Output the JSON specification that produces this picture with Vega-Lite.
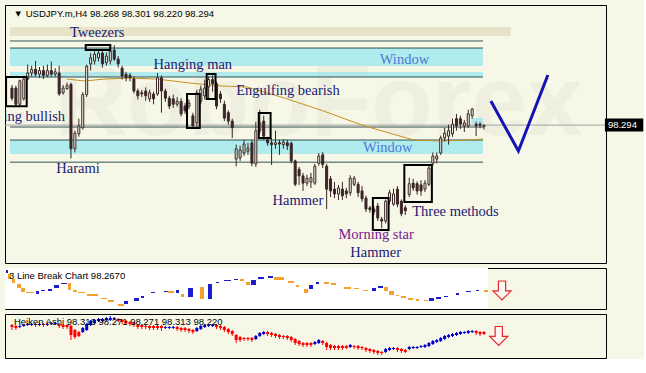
{
"$schema": "https://vega.github.io/schema/vega-lite/v6.json",
"background": "#f7f7e7",
"padding": {"left": 4, "top": 4, "right": 0, "bottom": 0},
"spacing": 3,
"config": {
  "view": {"stroke": "#000000", "strokeWidth": 1, "fill": "#f7f7e7"},
  "axis": {"labelFont": "Liberation Sans", "labelFontSize": 9.5, "labelColor": "#000000", "tickColor": "#000000", "domain": false, "grid": false, "tickSize": 4, "labelPadding": 3, "labelOverlap": false, "labelBound": false, "labelFlush": false}
},
"resolve": {"scale": {"x": "independent", "y": "independent", "color": "independent"}},
"datasets": {
  "candles": [
    {"i":0,"o":98.91,"h":98.96,"l":98.70,"c":98.74},{"i":1,"o":98.91,"h":98.95,"l":98.60,"c":98.64},{"i":2,"o":98.64,"h":99.05,"l":98.62,"c":99.03},{"i":3,"o":98.73,"h":99.08,"l":98.70,"c":99.06},
    {"i":4,"o":99.06,"h":99.30,"l":99.04,"c":99.16},{"i":5,"o":99.16,"h":99.28,"l":99.10,"c":99.22},{"i":6,"o":99.22,"h":99.36,"l":99.10,"c":99.14},{"i":7,"o":99.14,"h":99.26,"l":99.08,"c":99.20},
    {"i":8,"o":99.20,"h":99.28,"l":99.06,"c":99.12},{"i":9,"o":99.12,"h":99.30,"l":99.09,"c":99.20},{"i":10,"o":99.20,"h":99.35,"l":99.10,"c":99.14},{"i":11,"o":99.14,"h":99.24,"l":99.10,"c":99.18},
    {"i":12,"o":99.16,"h":99.28,"l":98.78,"c":98.81},{"i":13,"o":98.83,"h":98.96,"l":98.80,"c":98.91},{"i":14,"o":98.90,"h":99.00,"l":98.88,"c":98.95},{"i":15,"o":98.97,"h":99.00,"l":97.74,"c":97.90},
    {"i":16,"o":97.90,"h":98.20,"l":97.84,"c":98.16},{"i":17,"o":98.15,"h":98.40,"l":98.10,"c":98.28},{"i":18,"o":98.25,"h":98.84,"l":98.22,"c":98.80},{"i":19,"o":98.80,"h":99.30,"l":98.76,"c":99.27},
    {"i":20,"o":99.31,"h":99.49,"l":99.20,"c":99.41},{"i":21,"o":99.36,"h":99.52,"l":99.30,"c":99.47},{"i":22,"o":99.41,"h":99.55,"l":99.35,"c":99.49},{"i":23,"o":99.49,"h":99.55,"l":99.25,"c":99.31},
    {"i":24,"o":99.33,"h":99.50,"l":99.28,"c":99.44},{"i":25,"o":99.36,"h":99.64,"l":99.30,"c":99.52},{"i":26,"o":99.54,"h":99.62,"l":99.36,"c":99.39},{"i":27,"o":99.39,"h":99.44,"l":99.25,"c":99.31},
    {"i":28,"o":99.24,"h":99.28,"l":99.05,"c":99.11},{"i":29,"o":99.14,"h":99.18,"l":99.02,"c":99.08},{"i":30,"o":99.12,"h":99.16,"l":99.02,"c":99.08},{"i":31,"o":99.06,"h":99.10,"l":98.82,"c":98.86},
    {"i":32,"o":98.86,"h":98.90,"l":98.72,"c":98.78},{"i":33,"o":98.83,"h":98.88,"l":98.76,"c":98.81},{"i":34,"o":98.86,"h":98.92,"l":98.70,"c":98.78},{"i":35,"o":98.73,"h":98.88,"l":98.68,"c":98.83},
    {"i":36,"o":98.81,"h":98.85,"l":98.64,"c":98.73},{"i":37,"o":98.81,"h":99.16,"l":98.78,"c":99.08},{"i":38,"o":99.08,"h":99.12,"l":98.50,"c":98.86},{"i":39,"o":98.86,"h":98.90,"l":98.68,"c":98.74},
    {"i":40,"o":98.74,"h":98.78,"l":98.56,"c":98.61},{"i":41,"o":98.73,"h":98.80,"l":98.58,"c":98.64},{"i":42,"o":98.64,"h":98.76,"l":98.60,"c":98.69},{"i":43,"o":98.69,"h":98.74,"l":98.44,"c":98.48},
    {"i":44,"o":98.61,"h":98.66,"l":98.48,"c":98.53},{"i":45,"o":98.61,"h":98.72,"l":98.56,"c":98.66},{"i":46,"o":98.45,"h":98.50,"l":98.24,"c":98.28},{"i":47,"o":98.33,"h":98.88,"l":98.26,"c":98.83},
    {"i":48,"o":98.69,"h":98.95,"l":98.64,"c":98.89},{"i":49,"o":98.78,"h":99.05,"l":98.72,"c":98.91},{"i":50,"o":98.93,"h":99.10,"l":98.72,"c":99.05},{"i":51,"o":99.05,"h":99.12,"l":98.85,"c":98.98},
    {"i":52,"o":98.98,"h":99.02,"l":98.56,"c":98.61},{"i":53,"o":98.81,"h":98.86,"l":98.66,"c":98.73},{"i":54,"o":98.64,"h":98.70,"l":98.36,"c":98.41},{"i":55,"o":98.50,"h":98.54,"l":98.30,"c":98.36},
    {"i":56,"o":98.36,"h":98.40,"l":98.08,"c":98.25},{"i":57,"o":97.73,"h":97.97,"l":97.61,"c":97.90},{"i":58,"o":97.75,"h":97.95,"l":97.70,"c":97.88},{"i":59,"o":97.83,"h":98.05,"l":97.78,"c":97.98},
    {"i":60,"o":97.86,"h":98.00,"l":97.80,"c":97.91},{"i":61,"o":98.00,"h":98.05,"l":97.61,"c":97.66},{"i":62,"o":97.65,"h":98.35,"l":97.60,"c":98.20},{"i":63,"o":98.20,"h":98.55,"l":98.15,"c":98.33},
    {"i":64,"o":98.36,"h":98.45,"l":98.05,"c":98.11},{"i":65,"o":98.05,"h":98.10,"l":97.95,"c":98.00},{"i":66,"o":98.00,"h":98.08,"l":97.63,"c":97.97},{"i":67,"o":97.97,"h":98.20,"l":97.90,"c":98.00},
    {"i":68,"o":98.00,"h":98.05,"l":97.80,"c":97.98},{"i":69,"o":97.97,"h":98.06,"l":97.90,"c":98.01},{"i":70,"o":98.00,"h":98.05,"l":97.88,"c":97.95},{"i":71,"o":97.99,"h":98.02,"l":97.66,"c":97.70},
    {"i":72,"o":97.70,"h":97.72,"l":97.28,"c":97.31},{"i":73,"o":97.56,"h":97.60,"l":97.30,"c":97.45},{"i":74,"o":97.45,"h":97.50,"l":97.20,"c":97.33},{"i":75,"o":97.33,"h":97.47,"l":97.28,"c":97.41},
    {"i":76,"o":97.35,"h":97.50,"l":97.25,"c":97.42},{"i":77,"o":97.33,"h":97.65,"l":97.30,"c":97.61},{"i":78,"o":97.66,"h":97.83,"l":97.62,"c":97.78},{"i":79,"o":97.80,"h":97.85,"l":97.58,"c":97.64},
    {"i":80,"o":97.61,"h":97.65,"l":96.90,"c":97.23},{"i":81,"o":97.40,"h":97.45,"l":97.10,"c":97.20},{"i":82,"o":97.23,"h":97.35,"l":97.08,"c":97.15},{"i":83,"o":97.15,"h":97.30,"l":97.05,"c":97.25},
    {"i":84,"o":97.23,"h":97.35,"l":97.05,"c":97.12},{"i":85,"o":97.20,"h":97.25,"l":97.08,"c":97.15},{"i":86,"o":97.17,"h":97.46,"l":97.12,"c":97.41},{"i":87,"o":97.31,"h":97.45,"l":97.28,"c":97.41},
    {"i":88,"o":97.31,"h":97.35,"l":97.10,"c":97.17},{"i":89,"o":97.20,"h":97.28,"l":97.02,"c":97.07},{"i":90,"o":97.08,"h":97.12,"l":96.85,"c":96.90},{"i":91,"o":96.92,"h":96.95,"l":96.84,"c":96.89},
    {"i":92,"o":96.90,"h":96.95,"l":96.80,"c":96.85},{"i":93,"o":96.95,"h":97.00,"l":96.70,"c":96.75},{"i":94,"o":96.73,"h":96.77,"l":96.58,"c":96.70},{"i":95,"o":96.70,"h":97.06,"l":96.66,"c":97.03},
    {"i":96,"o":97.03,"h":97.22,"l":96.98,"c":97.17},{"i":97,"o":96.98,"h":97.24,"l":96.95,"c":97.15},{"i":98,"o":97.23,"h":97.28,"l":96.93,"c":96.98},{"i":99,"o":97.03,"h":97.06,"l":96.78,"c":96.82},
    {"i":100,"o":96.92,"h":96.96,"l":96.80,"c":96.87},{"i":101,"o":97.14,"h":97.42,"l":97.10,"c":97.32},{"i":102,"o":97.33,"h":97.40,"l":97.20,"c":97.25},{"i":103,"o":97.32,"h":97.36,"l":97.14,"c":97.20},
    {"i":104,"o":97.30,"h":97.38,"l":97.12,"c":97.20},{"i":105,"o":97.23,"h":97.38,"l":97.18,"c":97.33},{"i":106,"o":97.31,"h":97.62,"l":97.28,"c":97.58},{"i":107,"o":97.66,"h":97.84,"l":97.62,"c":97.78},
    {"i":108,"o":97.73,"h":97.84,"l":97.66,"c":97.78},{"i":109,"o":97.83,"h":98.12,"l":97.80,"c":98.08},{"i":110,"o":98.08,"h":98.25,"l":98.02,"c":98.16},{"i":111,"o":98.11,"h":98.30,"l":97.97,"c":98.20},
    {"i":112,"o":98.15,"h":98.40,"l":98.10,"c":98.31},{"i":113,"o":98.40,"h":98.48,"l":98.20,"c":98.28},{"i":114,"o":98.40,"h":98.45,"l":98.23,"c":98.31},{"i":115,"o":98.28,"h":98.38,"l":98.18,"c":98.33},
    {"i":116,"o":98.28,"h":98.55,"l":98.25,"c":98.48},{"i":117,"o":98.45,"h":98.58,"l":98.40,"c":98.56},{"i":118,"o":98.31,"h":98.35,"l":98.11,"c":98.28},{"i":119,"o":98.31,"h":98.34,"l":98.24,"c":98.29},
    {"i":120,"o":98.268,"h":98.301,"l":98.220,"c":98.294}
  ],
  "ma": [{"i":14,"v":99.059},{"i":18.5,"v":99.026},{"i":23.5,"v":99.059},{"i":29.75,"v":99.076},{"i":36.75,"v":99.059},{"i":45.25,"v":98.993},{"i":53.5,"v":98.943},{"i":59.75,"v":98.927},{"i":69.25,"v":98.744},{"i":79.25,"v":98.528},{"i":84.75,"v":98.395},{"i":89.75,"v":98.279},{"i":96.75,"v":98.146},{"i":102.25,"v":98.046},{"i":108.5,"v":98.030},{"i":116,"v":98.046},{"i":119.75,"v":98.063}],
  "zones": [
    {"x1":-0.5,"x2":126.75,"v1":99.774,"v2":99.923,"k":"tan"},
    {"x1":-0.5,"x2":119.75,"v1":99.275,"v2":99.574,"k":"cyan"},
    {"x1":-0.5,"x2":119.75,"v1":99.093,"v2":99.176,"k":"cyan"},
    {"x1":-0.5,"x2":119.75,"v1":97.813,"v2":98.046,"k":"cyan"},
    {"x1":116.75,"x2":119.75,"v1":98.312,"v2":98.412,"k":"cyan"}
  ],
  "hlines": [
    {"x1":-0.5,"x2":119.75,"v":99.691},{"x1":-0.5,"x2":119.75,"v":99.574},{"x1":-0.5,"x2":119.75,"v":99.093},
    {"x1":-0.5,"x2":119.75,"v":98.262},{"x1":-0.5,"x2":119.75,"v":98.046},{"x1":-0.5,"x2":119.75,"v":97.678}
  ],
  "boxes": [
    {"x1":-1.5,"x2":3.75,"v1":99.093,"v2":98.609},
    {"x1":18.75,"x2":25,"v1":99.624,"v2":99.541},
    {"x1":44.5,"x2":47.75,"v1":98.810,"v2":98.246},
    {"x1":49.5,"x2":51.75,"v1":99.142,"v2":98.727},
    {"x1":62.75,"x2":65.75,"v1":98.495,"v2":98.079},
    {"x1":91.75,"x2":95.75,"v1":97.083,"v2":96.551},
    {"x1":99.75,"x2":106.75,"v1":97.631,"v2":97.016}
  ],
  "labels": [
    {"i":14.75,"p":99.824,"t":"Tweezers","k":"pattern"},
    {"i":36,"p":99.292,"t":"Hanging man","k":"pattern"},
    {"i":93.5,"p":99.375,"t":"Window","k":"window"},
    {"i":57,"p":98.860,"t":"Engulfing bearish","k":"pattern"},
    {"i":11.25,"p":97.564,"t":"Harami","k":"pattern"},
    {"i":89.25,"p":97.913,"t":"Window","k":"window"},
    {"i":66.25,"p":97.033,"t":"Hammer","k":"pattern"},
    {"i":83,"p":96.468,"t":"Morning star","k":"star"},
    {"i":86,"p":96.169,"t":"Hammer","k":"pattern"},
    {"i":101.75,"p":96.850,"t":"Three methods","k":"pattern"}
  ],
  "bullish": [{"i":13.5,"p":98.428,"t":"Engulfing bullish"}],
  "header": [{"i":3.5,"p":100.139,"t":"USDJPY.m,H4  98.268 98.301 98.220 98.294"}],
  "tri": [{"i":1.6,"p":100.139,"t":"▼"}],
  "wm": [{"i":78,"p":98.62,"t":"RoboForex"}],
  "vline": [{"i":121.75,"p":98.694,"s":0},{"i":128.75,"p":97.863,"s":1},{"i":136.25,"p":99.126,"s":2}],
  "price": [{"v":98.294}],
  "tag": [{"x1":150.75,"x2":160.5,"v1":98.186,"v2":98.402,"xt":151.5,"v":98.294,"t":"98.294"}],
  "lbbg": [{"x1":-0.5,"x2":120.25,"v1":94.171,"v2":102.634}],
  "lb": [
    {"x1":-0.25,"x2":0.25,"v1":102.221,"v2":101.602,"d":"up"},
    {"x1":0.25,"x2":1,"v1":101.395,"v2":100.363,"d":"down"},
    {"x1":1.25,"x2":2,"v1":100.363,"v2":99.538,"d":"down"},
    {"x1":2.5,"x2":3.5,"v1":99.331,"v2":98.506,"d":"down"},
    {"x1":3.5,"x2":4.5,"v1":98.506,"v2":97.680,"d":"down"},
    {"x1":4.75,"x2":6.75,"v1":97.680,"v2":97.474,"d":"down"},
    {"x1":7.25,"x2":8,"v1":97.886,"v2":97.267,"d":"up"},
    {"x1":8.5,"x2":9.5,"v1":98.093,"v2":97.886,"d":"up"},
    {"x1":10.25,"x2":11.25,"v1":98.299,"v2":97.886,"d":"up"},
    {"x1":11.75,"x2":13,"v1":99.125,"v2":98.506,"d":"up"},
    {"x1":13.5,"x2":15,"v1":99.538,"v2":99.331,"d":"up"},
    {"x1":15.25,"x2":16,"v1":99.538,"v2":98.093,"d":"down"},
    {"x1":16.5,"x2":17.5,"v1":98.093,"v2":97.680,"d":"down"},
    {"x1":17.75,"x2":19.5,"v1":97.680,"v2":97.474,"d":"down"},
    {"x1":20,"x2":22.75,"v1":97.267,"v2":96.854,"d":"down"},
    {"x1":23.5,"x2":25,"v1":96.442,"v2":96.235,"d":"down"},
    {"x1":25.25,"x2":26.75,"v1":96.029,"v2":95.616,"d":"down"},
    {"x1":27.75,"x2":29.25,"v1":95.203,"v2":94.790,"d":"down"},
    {"x1":29.25,"x2":30.25,"v1":95.822,"v2":95.203,"d":"up"},
    {"x1":31.75,"x2":33,"v1":96.442,"v2":95.822,"d":"up"},
    {"x1":33.5,"x2":34.25,"v1":96.854,"v2":96.442,"d":"up"},
    {"x1":36,"x2":37,"v1":97.680,"v2":97.474,"d":"up"},
    {"x1":39.25,"x2":40.25,"v1":97.886,"v2":97.680,"d":"up"},
    {"x1":40.25,"x2":41.75,"v1":97.886,"v2":97.474,"d":"down"},
    {"x1":42.25,"x2":43,"v1":98.093,"v2":97.474,"d":"up"},
    {"x1":43.5,"x2":44.25,"v1":97.267,"v2":96.648,"d":"down"},
    {"x1":45.25,"x2":46.5,"v1":98.506,"v2":96.648,"d":"up"},
    {"x1":48.25,"x2":49.25,"v1":98.712,"v2":96.235,"d":"down"},
    {"x1":50.25,"x2":51.25,"v1":99.331,"v2":96.235,"d":"up"},
    {"x1":52.25,"x2":53,"v1":99.744,"v2":99.538,"d":"up"},
    {"x1":54.25,"x2":56,"v1":100.157,"v2":99.950,"d":"up"},
    {"x1":56.75,"x2":57.75,"v1":100.363,"v2":100.157,"d":"up"},
    {"x1":58.25,"x2":59.25,"v1":100.363,"v2":99.950,"d":"down"},
    {"x1":59.75,"x2":60.75,"v1":99.744,"v2":99.125,"d":"down"},
    {"x1":61,"x2":62.25,"v1":100.157,"v2":99.125,"d":"up"},
    {"x1":62.75,"x2":64.25,"v1":100.776,"v2":100.363,"d":"up"},
    {"x1":65.25,"x2":66.5,"v1":100.982,"v2":100.570,"d":"up"},
    {"x1":66.75,"x2":69.25,"v1":100.776,"v2":100.157,"d":"down"},
    {"x1":70.25,"x2":71.75,"v1":99.950,"v2":99.538,"d":"down"},
    {"x1":72.25,"x2":73,"v1":99.125,"v2":98.712,"d":"down"},
    {"x1":74.25,"x2":75.25,"v1":98.299,"v2":97.474,"d":"down"},
    {"x1":75.5,"x2":76.5,"v1":99.125,"v2":98.299,"d":"up"},
    {"x1":77.25,"x2":78,"v1":99.744,"v2":99.331,"d":"up"},
    {"x1":79.25,"x2":80.5,"v1":99.744,"v2":99.331,"d":"down"},
    {"x1":81,"x2":82.25,"v1":99.538,"v2":99.125,"d":"down"},
    {"x1":84.25,"x2":86,"v1":98.712,"v2":98.299,"d":"down"},
    {"x1":86.75,"x2":88,"v1":98.506,"v2":98.299,"d":"down"},
    {"x1":89,"x2":90.25,"v1":98.093,"v2":97.886,"d":"down"},
    {"x1":91.25,"x2":92.25,"v1":98.506,"v2":97.886,"d":"up"},
    {"x1":92.75,"x2":94,"v1":98.918,"v2":98.506,"d":"up"},
    {"x1":94.25,"x2":95.25,"v1":98.712,"v2":97.886,"d":"down"},
    {"x1":95.5,"x2":96.75,"v1":97.886,"v2":97.061,"d":"down"},
    {"x1":97.25,"x2":98,"v1":97.061,"v2":96.854,"d":"down"},
    {"x1":98.5,"x2":99.75,"v1":96.854,"v2":96.442,"d":"down"},
    {"x1":100.25,"x2":101.5,"v1":96.442,"v2":96.029,"d":"down"},
    {"x1":102.25,"x2":103,"v1":96.235,"v2":95.822,"d":"down"},
    {"x1":104.25,"x2":105.25,"v1":96.029,"v2":95.822,"d":"down"},
    {"x1":105.5,"x2":106.75,"v1":96.442,"v2":95.822,"d":"up"},
    {"x1":107.25,"x2":108.5,"v1":96.648,"v2":96.235,"d":"up"},
    {"x1":109.25,"x2":110.25,"v1":96.854,"v2":96.648,"d":"up"},
    {"x1":112.25,"x2":113,"v1":97.474,"v2":97.061,"d":"up"},
    {"x1":114.75,"x2":116,"v1":97.886,"v2":97.680,"d":"up"},
    {"x1":117.25,"x2":118,"v1":98.093,"v2":97.886,"d":"up"},
    {"x1":119.25,"x2":120.25,"v1":98.093,"v2":97.680,"d":"down"}
  ],
  "lblabel": [{"i":0.5,"v":100.982,"t":"3 Line Break Chart 98.2670"}],
  "lbarrow": [{"i":123.75,"v":97.99}],
  "ha": [
    {"i":0,"o":99.477,"c":99.249,"h":99.590,"l":98.908},{"i":1,"o":99.363,"c":99.135,"h":99.477,"l":98.908},{"i":2,"o":99.249,"c":99.363,"h":99.477,"l":99.135},{"i":3,"o":99.363,"c":99.477,"h":99.590,"l":99.249},
    {"i":4,"o":99.477,"c":99.590,"h":99.704,"l":99.363},{"i":5,"o":99.477,"c":99.590,"h":99.704,"l":99.363},{"i":6,"o":99.590,"c":99.477,"h":99.704,"l":99.249},{"i":7,"o":99.477,"c":99.590,"h":99.704,"l":99.363},
    {"i":8,"o":99.590,"c":99.477,"h":99.704,"l":99.249},{"i":9,"o":99.477,"c":99.590,"h":99.704,"l":99.363},{"i":10,"o":99.590,"c":99.704,"h":99.818,"l":99.477},{"i":11,"o":99.590,"c":99.704,"h":99.818,"l":99.477},
    {"i":12,"o":99.590,"c":99.363,"h":99.704,"l":99.135},{"i":13,"o":99.477,"c":99.249,"h":99.590,"l":99.021},{"i":14,"o":99.477,"c":99.249,"h":99.590,"l":99.021},{"i":15,"o":99.363,"c":98.339,"h":99.477,"l":97.770},
    {"i":16,"o":98.908,"c":98.111,"h":99.021,"l":97.883},{"i":17,"o":98.680,"c":98.225,"h":98.794,"l":98.111},{"i":18,"o":98.680,"c":99.135,"h":99.249,"l":98.566},{"i":19,"o":98.908,"c":99.590,"h":99.704,"l":98.794},
    {"i":20,"o":99.477,"c":99.932,"h":100.046,"l":99.363},{"i":21,"o":99.704,"c":100.046,"h":100.159,"l":99.590},{"i":22,"o":99.932,"c":100.159,"h":100.273,"l":99.818},{"i":23,"o":99.932,"c":100.159,"h":100.273,"l":99.818},
    {"i":24,"o":100.046,"c":100.273,"h":100.387,"l":99.932},{"i":25,"o":100.046,"c":100.273,"h":100.501,"l":99.932},{"i":26,"o":100.159,"c":100.273,"h":100.387,"l":100.046},{"i":27,"o":100.159,"c":99.932,"h":100.273,"l":99.818},
    {"i":28,"o":100.046,"c":99.818,"h":100.159,"l":99.590},{"i":29,"o":99.932,"c":99.704,"h":100.046,"l":99.477},{"i":30,"o":99.818,"c":99.590,"h":99.932,"l":99.363},{"i":31,"o":99.704,"c":99.477,"h":99.818,"l":99.249},
    {"i":32,"o":99.477,"c":99.249,"h":99.590,"l":99.021},{"i":33,"o":99.477,"c":99.249,"h":99.590,"l":99.021},{"i":34,"o":99.363,"c":99.249,"h":99.477,"l":99.021},{"i":35,"o":99.363,"c":99.135,"h":99.477,"l":98.908},
    {"i":36,"o":99.363,"c":99.135,"h":99.477,"l":98.908},{"i":37,"o":99.363,"c":99.135,"h":99.477,"l":98.908},{"i":38,"o":99.363,"c":99.135,"h":99.477,"l":98.794},{"i":39,"o":99.135,"c":99.249,"h":99.363,"l":99.021},
    {"i":40,"o":99.135,"c":99.249,"h":99.363,"l":99.021},{"i":41,"o":99.135,"c":99.249,"h":99.363,"l":99.021},{"i":42,"o":99.249,"c":99.021,"h":99.363,"l":98.794},{"i":43,"o":99.135,"c":98.908,"h":99.249,"l":98.680},
    {"i":44,"o":99.135,"c":98.908,"h":99.249,"l":98.680},{"i":45,"o":99.021,"c":98.794,"h":99.135,"l":98.566},{"i":46,"o":98.908,"c":98.680,"h":99.021,"l":98.452},{"i":47,"o":98.794,"c":99.135,"h":99.249,"l":98.680},
    {"i":48,"o":99.021,"c":99.363,"h":99.477,"l":98.908},{"i":49,"o":99.249,"c":99.477,"h":99.590,"l":99.135},{"i":50,"o":99.363,"c":99.477,"h":99.590,"l":99.249},{"i":51,"o":99.363,"c":99.477,"h":99.590,"l":99.249},
    {"i":52,"o":99.477,"c":99.249,"h":99.590,"l":99.021},{"i":53,"o":99.363,"c":99.135,"h":99.477,"l":98.908},{"i":54,"o":99.249,"c":98.908,"h":99.363,"l":98.680},{"i":55,"o":99.021,"c":98.680,"h":99.135,"l":98.452},
    {"i":56,"o":98.794,"c":98.452,"h":98.908,"l":98.225},{"i":57,"o":98.339,"c":97.770,"h":98.452,"l":97.428},{"i":58,"o":98.111,"c":97.770,"h":98.225,"l":97.542},{"i":59,"o":97.997,"c":97.883,"h":98.111,"l":97.656},
    {"i":60,"o":97.997,"c":97.883,"h":98.111,"l":97.656},{"i":61,"o":97.997,"c":97.770,"h":98.111,"l":97.542},{"i":62,"o":97.883,"c":98.225,"h":98.339,"l":97.770},{"i":63,"o":98.225,"c":98.566,"h":98.680,"l":98.111},
    {"i":64,"o":98.452,"c":98.680,"h":98.794,"l":98.339},{"i":65,"o":98.680,"c":98.452,"h":98.794,"l":98.225},{"i":66,"o":98.566,"c":98.339,"h":98.680,"l":98.111},{"i":67,"o":98.452,"c":98.225,"h":98.566,"l":97.997},
    {"i":68,"o":98.339,"c":98.111,"h":98.452,"l":97.883},{"i":69,"o":98.225,"c":98.111,"h":98.339,"l":97.883},{"i":70,"o":98.225,"c":97.997,"h":98.339,"l":97.770},{"i":71,"o":98.111,"c":97.770,"h":98.225,"l":97.542},
    {"i":72,"o":97.883,"c":97.428,"h":97.997,"l":97.201},{"i":73,"o":97.656,"c":97.314,"h":97.770,"l":97.087},{"i":74,"o":97.428,"c":97.201,"h":97.542,"l":96.973},{"i":75,"o":97.428,"c":97.201,"h":97.542,"l":96.973},
    {"i":76,"o":97.428,"c":97.201,"h":97.542,"l":96.973},{"i":77,"o":97.314,"c":97.542,"h":97.656,"l":97.201},{"i":78,"o":97.428,"c":97.770,"h":97.883,"l":97.314},{"i":79,"o":97.656,"c":97.428,"h":97.770,"l":97.201},
    {"i":80,"o":97.428,"c":96.973,"h":97.542,"l":96.632},{"i":81,"o":97.201,"c":96.859,"h":97.314,"l":96.632},{"i":82,"o":97.087,"c":96.859,"h":97.201,"l":96.632},{"i":83,"o":97.087,"c":96.859,"h":97.201,"l":96.632},
    {"i":84,"o":97.087,"c":96.859,"h":97.201,"l":96.632},{"i":85,"o":97.087,"c":96.859,"h":97.201,"l":96.745},{"i":86,"o":96.973,"c":97.201,"h":97.314,"l":96.859},{"i":87,"o":97.087,"c":96.973,"h":97.201,"l":96.745},
    {"i":88,"o":97.087,"c":96.859,"h":97.201,"l":96.632},{"i":89,"o":96.973,"c":96.859,"h":97.087,"l":96.632},{"i":90,"o":96.859,"c":96.632,"h":96.973,"l":96.404},{"i":91,"o":96.745,"c":96.518,"h":96.859,"l":96.290},
    {"i":92,"o":96.632,"c":96.404,"h":96.745,"l":96.176},{"i":93,"o":96.518,"c":96.290,"h":96.632,"l":96.062},{"i":94,"o":96.404,"c":96.290,"h":96.518,"l":96.062},{"i":95,"o":96.404,"c":96.745,"h":96.859,"l":96.290},
    {"i":96,"o":96.632,"c":96.859,"h":96.973,"l":96.518},{"i":97,"o":96.745,"c":96.859,"h":96.973,"l":96.632},{"i":98,"o":96.859,"c":96.632,"h":96.973,"l":96.404},{"i":99,"o":96.745,"c":96.518,"h":96.859,"l":96.290},
    {"i":100,"o":96.632,"c":96.404,"h":96.745,"l":96.290},{"i":101,"o":96.745,"c":96.973,"h":97.087,"l":96.632},{"i":102,"o":96.859,"c":96.973,"h":97.087,"l":96.745},{"i":103,"o":96.859,"c":96.973,"h":97.087,"l":96.745},
    {"i":104,"o":96.973,"c":97.087,"h":97.201,"l":96.859},{"i":105,"o":96.973,"c":97.201,"h":97.314,"l":96.859},{"i":106,"o":97.087,"c":97.428,"h":97.542,"l":96.973},{"i":107,"o":97.314,"c":97.656,"h":97.770,"l":97.201},
    {"i":108,"o":97.542,"c":97.770,"h":97.883,"l":97.428},{"i":109,"o":97.656,"c":97.997,"h":98.111,"l":97.542},{"i":110,"o":97.883,"c":98.225,"h":98.339,"l":97.770},{"i":111,"o":98.111,"c":98.339,"h":98.452,"l":97.997},
    {"i":112,"o":98.225,"c":98.452,"h":98.566,"l":98.111},{"i":113,"o":98.339,"c":98.566,"h":98.680,"l":98.225},{"i":114,"o":98.452,"c":98.680,"h":98.794,"l":98.339},{"i":115,"o":98.566,"c":98.680,"h":98.794,"l":98.452},
    {"i":116,"o":98.566,"c":98.794,"h":98.908,"l":98.452},{"i":117,"o":98.680,"c":98.794,"h":98.908,"l":98.566},{"i":118,"o":98.794,"c":98.566,"h":98.908,"l":98.339},{"i":119,"o":98.680,"c":98.452,"h":98.794,"l":98.225},
    {"i":120,"o":98.680,"c":98.452,"h":98.794,"l":98.339}
  ],
  "halabel": [{"i":0.5,"v":99.818,"t":"Heiken Ashi 98.316 98.271 98.271 98.313 98.220"}],
  "haarrow": [{"i":123.75,"v":98.225}]
},
"vconcat": [
  {
    "width": 601, "height": 258,
    "layer": [
      {"data": {"name": "zones"}, "mark": {"type": "rect"},
       "encoding": {
         "x": {"field": "x1", "type": "quantitative", "scale": {"domain": [-0.5, 149.75], "nice": false, "zero": false}, "axis": null, "title": null},
         "x2": {"field": "x2"},
         "y": {"field": "v1", "type": "quantitative", "scale": {"domain": [96.003, 100.289], "nice": false, "zero": false}, "title": null,
               "axis": {"orient": "right", "values": [96.085, 96.625, 97.165, 97.705, 98.8, 99.34, 99.895], "format": ".3f"}},
         "y2": {"field": "v2"},
         "color": {"condition": {"test": "datum.k === 'tan'", "value": "#e6e3c9"}, "value": "#b0ecee"}
       }},
      {"data": {"name": "wm"}, "mark": {"type": "text", "font": "Liberation Sans", "fontWeight": "bold", "fontSize": 100, "align": "center", "baseline": "middle", "color": "#c8c8c0", "opacity": 0.16},
       "encoding": {"x": {"field": "i", "type": "quantitative", "axis": null, "title": null}, "y": {"field": "p", "type": "quantitative", "axis": null, "title": null}, "text": {"field": "t"}}},
      {"data": {"name": "hlines"}, "mark": {"type": "rule", "color": "#2f5252", "strokeWidth": 1},
       "encoding": {"x": {"field": "x1", "type": "quantitative", "axis": null, "title": null}, "x2": {"field": "x2"}, "y": {"field": "v", "type": "quantitative", "axis": null, "title": null}}},
      {"data": {"name": "price"}, "mark": {"type": "rule", "color": "#a0a0a0", "strokeWidth": 1},
       "encoding": {"y": {"field": "v", "type": "quantitative", "axis": null, "title": null}}},
      {"data": {"name": "ma"}, "mark": {"type": "line", "color": "#c8901c", "strokeWidth": 1},
       "encoding": {"x": {"field": "i", "type": "quantitative", "axis": null, "title": null}, "y": {"field": "v", "type": "quantitative", "axis": null, "title": null}}},
      {"data": {"name": "candles"}, "mark": {"type": "rule", "color": "#3a2626", "strokeWidth": 1},
       "encoding": {"x": {"field": "i", "type": "quantitative", "axis": null, "title": null}, "y": {"field": "l", "type": "quantitative", "axis": null, "title": null}, "y2": {"field": "h"}}},
      {"data": {"name": "candles"}, "mark": {"type": "bar", "width": 2, "stroke": "#3a2626", "strokeWidth": 1},
       "encoding": {"x": {"field": "i", "type": "quantitative", "axis": null, "title": null}, "y": {"field": "o", "type": "quantitative", "axis": null, "title": null}, "y2": {"field": "c"},
         "fill": {"condition": {"test": "datum.c >= datum.o", "value": "#f7f7e7"}, "value": "#3a2626"}}},
      {"data": {"name": "boxes"}, "mark": {"type": "rect", "fill": null, "fillOpacity": 0, "stroke": "#000000", "strokeWidth": 2, "clip": true},
       "encoding": {"x": {"field": "x1", "type": "quantitative", "axis": null, "title": null}, "x2": {"field": "x2"}, "y": {"field": "v1", "type": "quantitative", "axis": null, "title": null}, "y2": {"field": "v2"}}},
      {"data": {"name": "labels"}, "mark": {"type": "text", "font": "Liberation Serif", "fontSize": 14.5, "align": "left", "baseline": "middle"},
       "encoding": {"x": {"field": "i", "type": "quantitative", "axis": null, "title": null}, "y": {"field": "p", "type": "quantitative", "axis": null, "title": null}, "text": {"field": "t"},
         "color": {"condition": [{"test": "datum.k === 'window'", "value": "#4d78d6"}, {"test": "datum.k === 'star'", "value": "#7a1890"}], "value": "#1a1a72"}}},
      {"data": {"name": "bullish"}, "mark": {"type": "text", "font": "Liberation Serif", "fontSize": 14.5, "align": "right", "baseline": "middle", "color": "#1a1a72", "clip": true},
       "encoding": {"x": {"field": "i", "type": "quantitative", "axis": null, "title": null}, "y": {"field": "p", "type": "quantitative", "axis": null, "title": null}, "text": {"field": "t"}}},
      {"data": {"name": "header"}, "mark": {"type": "text", "font": "Liberation Sans", "fontSize": 9.5, "align": "left", "baseline": "middle", "color": "#000000"},
       "encoding": {"x": {"field": "i", "type": "quantitative", "axis": null, "title": null}, "y": {"field": "p", "type": "quantitative", "axis": null, "title": null}, "text": {"field": "t"}}},
      {"data": {"name": "tri"}, "mark": {"type": "text", "font": "DejaVu Sans", "fontSize": 7, "align": "center", "baseline": "middle", "color": "#000000"},
       "encoding": {"x": {"field": "i", "type": "quantitative", "axis": null, "title": null}, "y": {"field": "p", "type": "quantitative", "axis": null, "title": null}, "text": {"field": "t"}}},
      {"data": {"name": "vline"}, "mark": {"type": "line", "color": "#1414b4", "strokeWidth": 3},
       "encoding": {"x": {"field": "i", "type": "quantitative", "axis": null, "title": null}, "y": {"field": "p", "type": "quantitative", "axis": null, "title": null}, "order": {"field": "s"}}},
      {"data": {"name": "tag"}, "mark": {"type": "rect", "color": "#000000"},
       "encoding": {"x": {"field": "x1", "type": "quantitative", "axis": null, "title": null}, "x2": {"field": "x2"}, "y": {"field": "v1", "type": "quantitative", "axis": null, "title": null}, "y2": {"field": "v2"}}},
      {"data": {"name": "tag"}, "mark": {"type": "text", "font": "Liberation Sans", "fontSize": 9.5, "align": "left", "baseline": "middle", "color": "#ffffff"},
       "encoding": {"x": {"field": "xt", "type": "quantitative", "axis": null, "title": null}, "y": {"field": "v", "type": "quantitative", "axis": null, "title": null}, "text": {"field": "t"}}}
    ]
  },
  {
    "width": 601, "height": 41,
    "layer": [
      {"data": {"name": "lbbg"}, "mark": {"type": "rect", "color": "#ffffff"},
       "encoding": {
         "x": {"field": "x1", "type": "quantitative", "scale": {"domain": [-0.5, 149.75], "nice": false, "zero": false}, "axis": null, "title": null},
         "x2": {"field": "x2"},
         "y": {"field": "v1", "type": "quantitative", "scale": {"domain": [94.171, 102.634], "nice": false, "zero": false}, "title": null,
               "axis": {"orient": "right", "values": [95.8223, 101.6017], "format": ".4f"}},
         "y2": {"field": "v2"}
       }},
      {"data": {"name": "lb"}, "mark": {"type": "rect"},
       "encoding": {"x": {"field": "x1", "type": "quantitative", "axis": null, "title": null}, "x2": {"field": "x2"}, "y": {"field": "v1", "type": "quantitative", "axis": null, "title": null}, "y2": {"field": "v2"},
         "color": {"condition": {"test": "datum.d === 'up'", "value": "#1c1ccc"}, "value": "#f4a02c"}}},
      {"data": {"name": "lblabel"}, "mark": {"type": "text", "font": "Liberation Sans", "fontSize": 9.5, "align": "left", "baseline": "middle", "color": "#000000"},
       "encoding": {"x": {"field": "i", "type": "quantitative", "axis": null, "title": null}, "y": {"field": "v", "type": "quantitative", "axis": null, "title": null}, "text": {"field": "t"}}},
      {"data": {"name": "lbarrow"}, "mark": {"type": "point", "shape": "M-0.38,-1L0.38,-1L0.38,0.05L0.95,0.05L0,1L-0.95,0.05L-0.38,0.05Z", "size": 361, "filled": true, "fill": "#fff8f2", "stroke": "#e02828", "strokeWidth": 1.2, "opacity": 1},
       "encoding": {"x": {"field": "i", "type": "quantitative", "axis": null, "title": null}, "y": {"field": "v", "type": "quantitative", "axis": null, "title": null}}}
    ]
  },
  {
    "width": 601, "height": 44,
    "layer": [
      {"data": {"name": "ha"}, "mark": {"type": "rule", "strokeWidth": 1},
       "encoding": {
         "x": {"field": "i", "type": "quantitative", "scale": {"domain": [-0.5, 149.75], "nice": false, "zero": false}, "title": null,
               "axis": {"orient": "bottom", "values": [-0.25, 15.75, 31.75, 47.75, 63.75, 79.75, 95.75, 111.75], "labelAlign": "left", "labelBaseline": "top", "labelFontSize": 9, "labelPadding": 1,
                        "labelExpr": "['16 Sep 2013','19 Sep 00:00','23 Sep 16:00','26 Sep 08:00','1 Oct 00:00','3 Oct 16:00','8 Oct 08:00','11 Oct 00:00'][round((datum.value + 0.25) / 16)]"}},
         "y": {"field": "l", "type": "quantitative", "scale": {"domain": [95.721, 100.728], "nice": false, "zero": false}, "title": null,
               "axis": {"orient": "right", "values": [96.404, 99.818], "format": ".3f"}},
         "y2": {"field": "h"},
         "color": {"condition": {"test": "datum.c >= datum.o", "value": "#0000cd"}, "value": "#ff0000"}
       }},
      {"data": {"name": "ha"}, "mark": {"type": "bar", "width": 3},
       "encoding": {"x": {"field": "i", "type": "quantitative", "axis": null, "title": null}, "y": {"field": "o", "type": "quantitative", "axis": null, "title": null}, "y2": {"field": "c"},
         "color": {"condition": {"test": "datum.c >= datum.o", "value": "#0000cd"}, "value": "#ff0000"}}},
      {"data": {"name": "halabel"}, "mark": {"type": "text", "font": "Liberation Sans", "fontSize": 9.5, "align": "left", "baseline": "middle", "color": "#000000"},
       "encoding": {"x": {"field": "i", "type": "quantitative", "axis": null, "title": null}, "y": {"field": "v", "type": "quantitative", "axis": null, "title": null}, "text": {"field": "t"}}},
      {"data": {"name": "haarrow"}, "mark": {"type": "point", "shape": "M-0.38,-1L0.38,-1L0.38,0.05L0.95,0.05L0,1L-0.95,0.05L-0.38,0.05Z", "size": 361, "filled": true, "fill": "#fff8f2", "stroke": "#e02828", "strokeWidth": 1.2, "opacity": 1},
       "encoding": {"x": {"field": "i", "type": "quantitative", "axis": null, "title": null}, "y": {"field": "v", "type": "quantitative", "axis": null, "title": null}}}
    ]
  }
]
}
